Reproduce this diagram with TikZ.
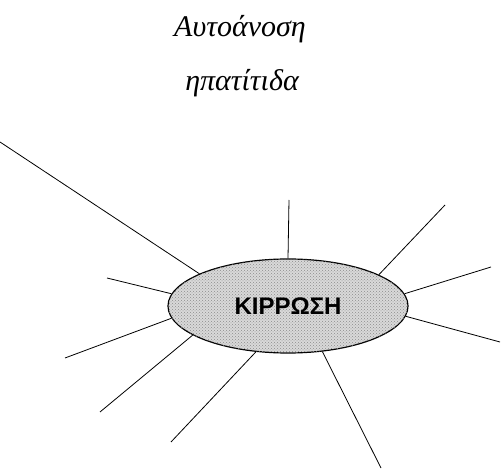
\documentclass[tikz,border=0pt]{standalone}
\usepackage{fontspec}
\setmainfont{Liberation Serif}
\setsansfont{Liberation Sans}
\usetikzlibrary{shapes.geometric, positioning, patterns}

\begin{document}
\begin{tikzpicture}[
    x=1pt, y=-1pt,
    hub/.style={ellipse, draw, line width=1.2pt, fill=gray!30,
        postaction={pattern=crosshatch dots, pattern color=gray!90},
        minimum width=240pt, minimum height=94pt, inner sep=0pt,
        font=\sffamily\bfseries\fontsize{24}{28}\selectfont},
    title/.style={anchor=base, inner sep=0pt, font=\itshape\fontsize{30}{35}\selectfont},
    ray/.style={line width=0.8pt}
]
\useasboundingbox (0,0) rectangle (501,470);

% titles
\node[title] (auto) at (240,37) {Αυτοάνοση};
\node[title] (hep) at (242,91) {ηπατίτιδα};

% central node
\node[hub] (kirrosi) at (288,306) {ΚΙΡΡΩΣΗ};

% free ends of the rays
\coordinate (r1) at (0,142);
\coordinate (r2) at (289,200);
\coordinate (r3) at (445,205);
\coordinate (r4) at (491,267);
\coordinate (r5) at (500,342);
\coordinate (r6) at (381,468);
\coordinate (r7) at (171,442);
\coordinate (r8) at (100,412);
\coordinate (r9) at (65,358);
\coordinate (r10) at (107,278);

\draw[ray] (kirrosi.160) -- (r1);
\draw[ray] (kirrosi.90) -- (r2);
\draw[ray] (kirrosi.19) -- (r3);
\draw[ray] (kirrosi.6) -- (r4);
\draw[ray] (kirrosi.355) -- (r5);
\draw[ray] (kirrosi.307) -- (r6);
\draw[ray] (kirrosi.235) -- (r7);
\draw[ray] (kirrosi.197) -- (r8);
\draw[ray] (kirrosi.186) -- (r9);
\draw[ray] (kirrosi.174) -- (r10);
\end{tikzpicture}
\end{document}
